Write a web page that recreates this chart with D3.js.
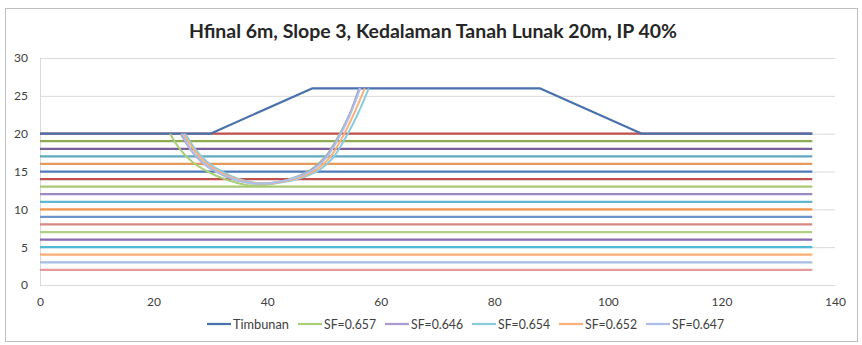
<!DOCTYPE html>
<html>
<head>
<meta charset="utf-8">
<script src="https://cdn.jsdelivr.net/npm/d3@7"></script>
<style>
  html, body { margin: 0; padding: 0; background: #fff; }
  svg { display: block; }
  text { font-family: Lato, "Open Sans", "Liberation Sans", sans-serif; }
</style>
</head>
<body>
<script>
// ---- data -------------------------------------------------------------
const chartTitle = "Hfinal 6m, Slope 3, Kedalaman Tanah Lunak 20m, IP 40%";
const xTicks = [0, 20, 40, 60, 80, 100, 120, 140];
const yTicks = [0, 5, 10, 15, 20, 25, 30];

// soft soil layer boundaries (elevation, m) and their line colours
const layerY = [20, 19, 18, 17, 16, 15, 14, 13, 12, 11, 10, 9, 8, 7, 6, 5, 4, 3, 2];
const layerColors = ["#c0504d", "#8eab52", "#7a5f9a", "#62a9bf", "#e5995b",
                     "#4f7bbd", "#c0504d", "#a8c874", "#9c88c2", "#5fb6cf",
                     "#f0964c", "#6c95cd", "#d88886", "#b2d083", "#8b6bb0",
                     "#4fb9d8", "#fbae73", "#a6bde3", "#e39c9b"];
const layerStartX = 0;
const layerEndX = 136;

// embankment outline
const timbunanX = [0, 30, 48, 88, 106, 136];
const timbunanY = [20, 20, 26, 26, 20, 20];

// slip surfaces, [x, y] in metres
const sfLabels = ["SF=0.657", "SF=0.646", "SF=0.654", "SF=0.652", "SF=0.647"];
const sfColors = ["#a9cf78", "#ab9bd2", "#8acbde", "#f8b27c", "#adbfe6"];
const slip0657 = [[22.9,20],[24.6,18],[26.8,16.3],[29.5,15],[32.5,14],[36.5,13.2],[40.5,13.3],[44.8,14.2],[47.8,15.3],[50.3,17],[52.8,20],[54.5,22.5],[56.3,26]];
const slip0646 = [[24.8,20],[26.4,18],[28.4,16.3],[30.9,15],[33.9,14],[37.9,13.4],[41.9,13.6],[45.4,14.3],[48,15.3],[50.4,17],[52.9,20],[54.5,22.5],[56.2,26]];
const slip0654 = [[25.6,20],[27.3,18],[29.4,16.3],[32,15],[35,14],[39,13.4],[43,13.6],[46.6,14.3],[49.4,15.3],[51.8,17],[54.2,20],[55.9,22.5],[57.9,26]];
const slip0652 = [[25.3,20],[27,18],[29,16.3],[31.5,15],[34.5,14],[38.5,13.4],[42.5,13.6],[46,14.3],[48.8,15.3],[51.2,17],[53.6,20],[55.2,22.5],[57.2,26]];
const slip0647 = [[25,20],[26.5,18],[28.5,16.3],[31,15],[34,14],[38,13.4],[42,13.6],[45.5,14.3],[48.2,15.3],[50.6,17],[53,20],[54.6,22.5],[56.4,26]];
const slipSeries = [slip0657, slip0646, slip0654, slip0652, slip0647];

// ---- layout -----------------------------------------------------------
const W = 862, H = 345;
const plot = { left: 40, right: 835, top: 58, bottom: 285 };

const svg = d3.select("body").append("svg")
  .attr("width", W).attr("height", H);

svg.append("rect")
  .attr("x", 5.5).attr("y", 8.5).attr("width", 852).attr("height", 333)
  .attr("fill", "#fff").attr("stroke", "#bfbfbf").attr("stroke-width", 1);

const x = d3.scaleLinear().domain([0, 140]).range([plot.left, plot.right]);
const y = d3.scaleLinear().domain([0, 30]).range([plot.bottom, plot.top]);

// title
svg.append("text")
  .attr("x", 433).attr("y", 38)
  .attr("text-anchor", "middle")
  .attr("font-size", 18).attr("font-weight", "bold")
  .attr("fill", "#262626")
  .attr("textLength", 488).attr("lengthAdjust", "spacingAndGlyphs")
  .text(chartTitle);

// gridlines
svg.append("g")
  .attr("transform", `translate(${plot.left},0)`)
  .call(d3.axisLeft(y).tickValues(yTicks).tickSize(-(plot.right - plot.left)).tickFormat(""))
  .call(g => g.select(".domain").remove())
  .call(g => g.selectAll(".tick line").attr("stroke", "#d9d9d9").attr("stroke-width", 1));

// value axis line
svg.append("line")
  .attr("x1", plot.left + 0.5).attr("x2", plot.left + 0.5)
  .attr("y1", plot.top).attr("y2", plot.bottom)
  .attr("stroke", "#d9d9d9");

// axis labels
const yAxis = svg.append("g")
  .attr("transform", `translate(${plot.left - 12},0)`)
  .call(d3.axisLeft(y).tickValues(yTicks).tickSize(0).tickPadding(0));
yAxis.select(".domain").remove();
yAxis.selectAll("text").attr("font-size", 12).attr("fill", "#404040")
  .attr("font-family", "Lato, sans-serif");

const xAxis = svg.append("g")
  .attr("transform", `translate(0,${plot.bottom + 12})`)
  .call(d3.axisBottom(x).tickValues(xTicks).tickSize(0).tickPadding(0));
xAxis.select(".domain").remove();
xAxis.selectAll("text").attr("font-size", 12).attr("fill", "#404040")
  .attr("font-family", "Lato, sans-serif");

// soil layers
const line = d3.line().x(d => x(d[0])).y(d => y(d[1]));
svg.append("g").selectAll("path")
  .data(layerY)
  .join("path")
  .attr("d", d => line([[layerStartX, d], [layerEndX, d]]))
  .attr("fill", "none")
  .attr("stroke", (d, i) => layerColors[i])
  .attr("stroke-width", 2.25);

// embankment
const timbunan = timbunanX.map((v, i) => [v, timbunanY[i]]);
svg.append("path")
  .attr("d", line(timbunan))
  .attr("fill", "none")
  .attr("stroke", "#4a72ad")
  .attr("stroke-width", 2.25)
  .attr("stroke-linejoin", "round");

// slip surfaces
const curve = d3.line().x(d => x(d[0])).y(d => y(d[1])).curve(d3.curveCatmullRom.alpha(0.5));
svg.append("g").selectAll("path")
  .data(slipSeries)
  .join("path")
  .attr("d", d => curve(d))
  .attr("fill", "none")
  .attr("stroke", (d, i) => sfColors[i])
  .attr("stroke-width", 2);

// legend
const legendItems = [{ label: "Timbunan", color: "#4a72ad", w: 56 }]
  .concat(sfLabels.map((l, i) => ({ label: l, color: sfColors[i], w: 52 })));
const legend = svg.append("g").attr("transform", "translate(207,324)");
let cx = 0;
legendItems.forEach(item => {
  const g = legend.append("g").attr("transform", `translate(${cx},0)`);
  g.append("line").attr("x1", 0).attr("x2", 24).attr("y1", 0).attr("y2", 0)
    .attr("stroke", item.color).attr("stroke-width", 2.25);
  g.append("text").attr("x", 26).attr("y", 4.5)
    .attr("font-size", 12.5).attr("fill", "#404040")
    .attr("textLength", item.w).attr("lengthAdjust", "spacingAndGlyphs")
    .text(item.label);
  cx += 26 + item.w + 9;
});
</script>
</body>
</html>
